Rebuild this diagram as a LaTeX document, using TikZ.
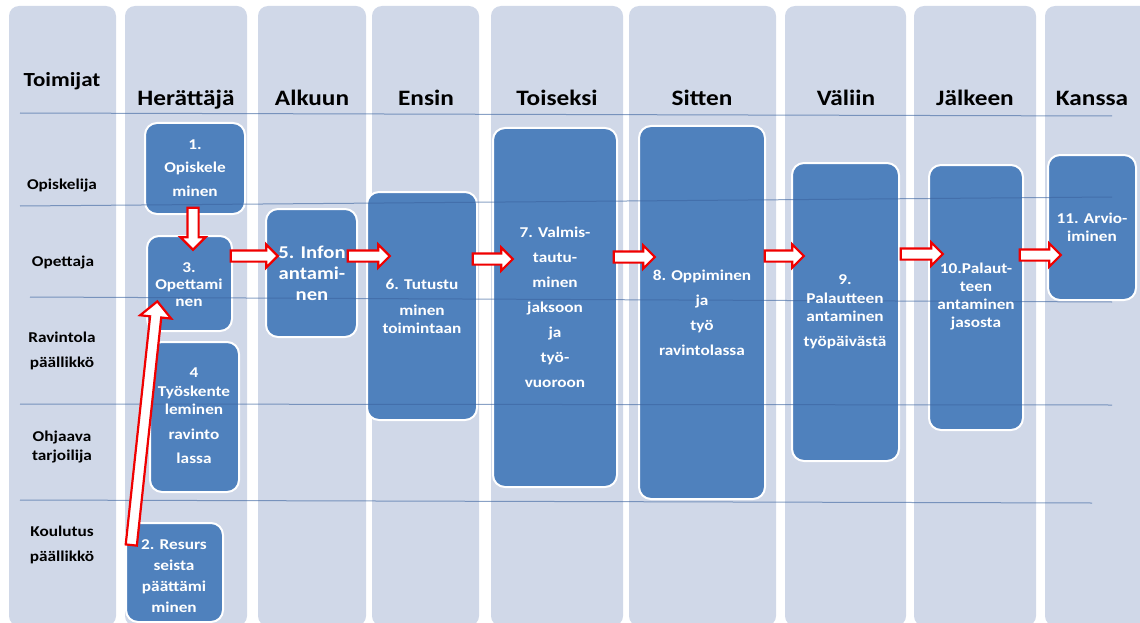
\documentclass[tikz,border=0pt]{standalone}
\usepackage{fontspec}
\setmainfont{Carlito}[FakeStretch=1.15]
\usetikzlibrary{shapes.arrows,fit}
\definecolor{colbg}{RGB}{208,216,232}
\definecolor{boxblue}{RGB}{79,129,189}
\definecolor{lineblue}{RGB}{60,100,160}
\definecolor{arrred}{RGB}{240,0,0}
\tikzset{
  lane/.style={fill=colbg, rounded corners=10pt},
  proc/.style={fill=boxblue, draw=white, line width=2pt, rounded corners=12pt, inner sep=0pt},
  swim/.style={draw=lineblue, draw opacity=0.6, line width=1pt},
  boxtxt/.style={text=white, align=center, inner sep=0pt},
  rowtxt/.style={text=black, align=center, inner sep=0pt},
  headtxt/.style={text=black, anchor=base, inner sep=0pt, font=\fontsize{22}{26}\selectfont\bfseries},
  blockarrow/.style={single arrow, draw=arrred, fill=white, line width=2.2pt, inner xsep=0pt, inner ysep=4.5pt,
     single arrow tip angle=90, minimum width=22pt, single arrow head extend=6pt},
}
\newcommand{\fs}[2]{\fontsize{#1}{#2}\selectfont\bfseries}
\begin{document}
\begin{tikzpicture}[x=1pt,y=-1pt]
\clip (0,0) rectangle (1140,623);
\fill[white] (0,0) rectangle (1140,623);
% lanes
\fill[lane] (9,6) rectangle (116,626);
\fill[lane] (125,6) rectangle (247,626);
\fill[lane] (258,6) rectangle (366,626);
\fill[lane] (372,6) rectangle (479,626);
\fill[lane] (491,6) rectangle (623,626);
\fill[lane] (629,6) rectangle (776,626);
\fill[lane] (785,6) rectangle (906,626);
\fill[lane] (914,6) rectangle (1036,626);
\fill[lane] (1045,6) rectangle (1160,626);
% headers
\node[headtxt, font=\fontsize{20}{24}\selectfont\bfseries] (hT) at (62,87) {Toimijat};
\node[headtxt] (h1) at (186,106) {Herättäjä};
\node[headtxt] (h2) at (312,106) {Alkuun};
\node[headtxt] (h3) at (426,106) {Ensin};
\node[headtxt] (h4) at (557,106) {Toiseksi};
\node[headtxt] (h5) at (702,106) {Sitten};
\node[headtxt] (h6) at (846,106) {Väliin};
\node[headtxt] (h7) at (975,106) {Jälkeen};
\node[headtxt] (h8) at (1092,106) {Kanssa};
% row labels
\node[rowtxt, font=\fs{15}{18}] (r1) at (62,186) {Opiskelija};
\node[rowtxt, font=\fs{15}{18}] (r2) at (63,263) {Opettaja};
\node[rowtxt, font=\fs{15}{24.5}] (r3) at (62,351) {Ravintola\\päällikkö};
\node[rowtxt, font=\fs{15}{19}] (r4) at (62,447) {Ohjaava\\tarjoilija};
\node[rowtxt, font=\fs{15}{25}] (r5) at (62,545) {Koulutus\\päällikkö};
% boxes
\node[proc, fit={(145,123) (245,214)}] (b1) {};
\node[proc, fit={(147,236) (232,331)}] (b3) {};
\node[proc, fit={(150,342) (239,492)}] (b4) {};
\node[proc, fit={(126,523) (223,622)}] (b2) {};
\node[proc, fit={(266,209) (357,337)}] (b5) {};
\node[proc, fit={(367,192) (477,420)}] (b6) {};
\node[proc, fit={(493,128) (617,487)}] (b7) {};
\node[proc, fit={(639,126) (765,499)}] (b8) {};
\node[proc, fit={(792,163) (899,461)}] (b9) {};
\node[proc, fit={(929,165) (1023,430)}] (b10) {};
\node[proc, fit={(1048,155) (1136,300)}] (b11) {};
% swimlane lines
\draw[swim] (20,113) -- (1112,116);
\draw[swim] (20,206) -- (1112,197);
\draw[swim] (30,297) -- (1112,302);
\draw[swim] (20,404) -- (1112,405);
\draw[swim] (20,500) -- (1092,503);
% box texts
\node[boxtxt, font=\fs{15}{23.5}] (t1) at (195,168) {1.\\Opiskele\\minen};
\node[boxtxt, font=\fs{15}{17}] (t3) at (189,285) {3.\\Opettami\\nen};
\node[boxtxt, font=\fs{15}{18.5}] (t4) at (194,416) {4\\Työskente\\leminen\\[6pt]ravinto\\[6pt]lassa};
\node[boxtxt, font=\fs{15}{21}] (t2) at (174,576) {2. Resurs\\seista\\päättämi\\minen};
\node[boxtxt, font=\fs{18}{21}] (t5) at (312,273) {5. Infon\\antami-\\nen};
\node[boxtxt, font=\fs{15}{18}] (t6) at (422,306) {6. Tutustu\\[8pt]minen\\toimintaan};
\node[boxtxt, font=\fs{15}{25}] (t7) at (555,307) {7. Valmis-\\tautu-\\minen\\jaksoon\\ja\\työ-\\vuoroon};
\node[boxtxt, font=\fs{15}{25}] (t8) at (702,313) {8. Oppiminen\\ja\\työ\\ravintolassa};
\node[boxtxt, font=\fs{15}{18.5}] (t9) at (845,312) {9.\\Palautteen\\antaminen\\[6.5pt]työpäivästä};
\node[boxtxt, font=\fs{15}{18}] (t10) at (976,297) {10.Palaut-\\teen\\antaminen\\jasosta};
\node[boxtxt, font=\fs{15}{18}] (t11) at (1092,227) {11. Arvio-\\iminen};
% block arrows
\node[blockarrow, minimum height=42pt, minimum width=24pt, single arrow head extend=7pt, rotate=-90] (a13) at (193,226) {};
\node[blockarrow, minimum height=245pt, minimum width=29pt, single arrow head extend=10pt, rotate=83.9] (a23) at (144,426) {};
\node[blockarrow, minimum height=47pt] (a35) at (251.5,256) {};
\node[blockarrow, minimum height=42pt] (a56) at (366,256) {};
\node[blockarrow, minimum height=40pt] (a67) at (490,259) {};
\node[blockarrow, minimum height=41pt] (a78) at (631.5,257) {};
\node[blockarrow, minimum height=39pt] (a89) at (781.5,256) {};
\node[blockarrow, minimum height=42pt] (a910) at (919,254) {};
\node[blockarrow, minimum height=41pt] (a1011) at (1037.5,255) {};
\end{tikzpicture}
\end{document}
